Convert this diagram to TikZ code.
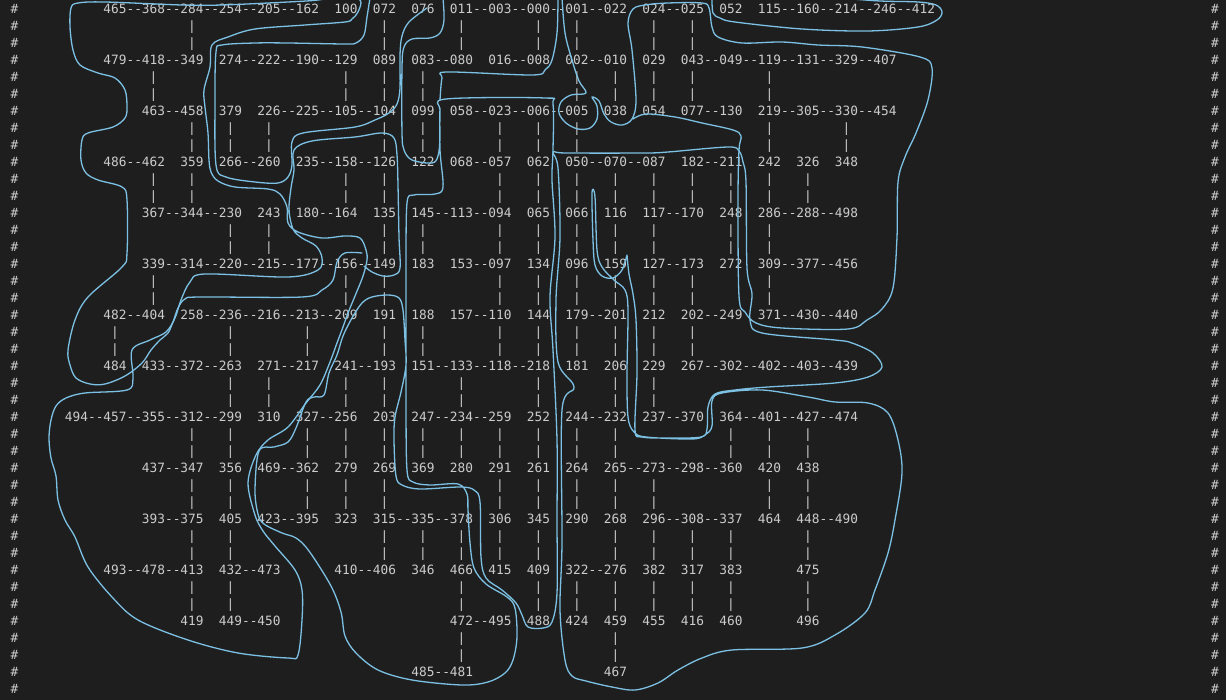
\documentclass[tikz,border=0pt]{standalone}
\usepackage{fontspec}
\setmonofont{DejaVu Sans Mono}
\definecolor{bgdark}{HTML}{1E1E1E}
\definecolor{txtgray}{HTML}{CCCCCC}
\definecolor{penblue}{HTML}{7CC0E3}
\begin{document}
\begin{tikzpicture}[x=1pt,y=-1pt,
    num/.style={font=\ttfamily\fontsize{12.8pt}{15pt}\selectfont, text=txtgray,
              inner sep=0pt, outer sep=0pt, text height=0.76em, text depth=0.24em},
    pen/.style={draw=penblue, line width=1.3pt, line cap=round, line join=round}]
        \fill[bgdark] (0,0) rectangle (1226,700);
        \useasboundingbox (0,0) rectangle (1226,700);
        % margin marks
        \foreach \i[
            evaluate = \i as \yi using {11.3 + 17*\i}
            ] in {0,...,40}{
            \node[num] (hl\i) at (14.5,\yi) {\#};
            \node[num] (hr\i) at (1215,\yi) {\#};
        };
        % numbered cells, row/column
        \foreach \r/\row in {
            0/{1/465,2/368,3/284,4/254,5/205,6/162,7/100,8/072,9/076,10/011,11/003,12/000,13/001,14/022,15/024,16/025,17/052,18/115,19/160,20/214,21/246,22/412},
            1/{1/479,2/418,3/349,4/274,5/222,6/190,7/129,8/089,9/083,10/080,11/016,12/008,13/002,14/010,15/029,16/043,17/049,18/119,19/131,20/329,21/407},
            2/{2/463,3/458,4/379,5/226,6/225,7/105,8/104,9/099,10/058,11/023,12/006,13/005,14/038,15/054,16/077,17/130,18/219,19/305,20/330,21/454},
            3/{1/486,2/462,3/359,4/266,5/260,6/235,7/158,8/126,9/122,10/068,11/057,12/062,13/050,14/070,15/087,16/182,17/211,18/242,19/326,20/348},
            4/{2/367,3/344,4/230,5/243,6/180,7/164,8/135,9/145,10/113,11/094,12/065,13/066,14/116,15/117,16/170,17/248,18/286,19/288,20/498},
            5/{2/339,3/314,4/220,5/215,6/177,7/156,8/149,9/183,10/153,11/097,12/134,13/096,14/159,15/127,16/173,17/272,18/309,19/377,20/456},
            6/{1/482,2/404,3/258,4/236,5/216,6/213,7/209,8/191,9/188,10/157,11/110,12/144,13/179,14/201,15/212,16/202,17/249,18/371,19/430,20/440},
            7/{1/484,2/433,3/372,4/263,5/271,6/217,7/241,8/193,9/151,10/133,11/118,12/218,13/181,14/206,15/229,16/267,17/302,18/402,19/403,20/439},
            8/{0/494,1/457,2/355,3/312,4/299,5/310,6/327,7/256,8/203,9/247,10/234,11/259,12/252,13/244,14/232,15/237,16/370,17/364,18/401,19/427,20/474},
            9/{2/437,3/347,4/356,5/469,6/362,7/279,8/269,9/369,10/280,11/291,12/261,13/264,14/265,15/273,16/298,17/360,18/420,19/438},
            10/{2/393,3/375,4/405,5/423,6/395,7/323,8/315,9/335,10/378,11/306,12/345,13/290,14/268,15/296,16/308,17/337,18/464,19/448,20/490},
            11/{1/493,2/478,3/413,4/432,5/473,7/410,8/406,9/346,10/466,11/415,12/409,13/322,14/276,15/382,16/317,17/383,19/475},
            12/{3/419,4/449,5/450,10/472,11/495,12/488,13/424,14/459,15/455,16/416,17/460,19/496},
            13/{9/485,10/481,14/467}}{
            \foreach \k/\v [
                evaluate = \k as \xk using {76.5 + 38.5*\k},
                evaluate = \r as \yr using {11.3 + 51*\r}
                ] in \row{
                \node[num] (n\v) at (\xk,\yr) {\v};
            };
        };
        % horizontal links
        \foreach \a/\b in {465/368,368/284,284/254,254/205,205/162,011/003,003/000,000/001,001/022,024/025,115/160,160/214,214/246,246/412,
            479/418,418/349,274/222,222/190,190/129,083/080,016/008,002/010,043/049,049/119,119/131,131/329,329/407,
            463/458,226/225,225/105,105/104,058/023,023/006,006/005,077/130,219/305,305/330,330/454,
            486/462,266/260,235/158,158/126,068/057,050/070,070/087,182/211,
            367/344,344/230,180/164,145/113,113/094,117/170,286/288,288/498,
            339/314,314/220,220/215,215/177,177/156,156/149,153/097,127/173,309/377,377/456,
            482/404,258/236,236/216,216/213,213/209,157/110,179/201,202/249,371/430,430/440,
            433/372,372/263,271/217,241/193,151/133,133/118,118/218,267/302,302/402,402/403,403/439,
            494/457,457/355,355/312,312/299,327/256,247/234,234/259,244/232,237/370,364/401,401/427,427/474,
            437/347,469/362,265/273,273/298,298/360,
            393/375,423/395,315/335,335/378,296/308,308/337,448/490,
            493/478,478/413,432/473,410/406,322/276,
            449/450,472/495,
            485/481}{
            \path (n\a.center) -- node[num] {-{}-} (n\b.center);
        };
        % vertical links
        \foreach \a/\b in {284/349,072/089,011/080,000/008,001/002,024/029,025/043,
            418/463,129/105,089/104,083/099,002/005,010/038,029/054,043/077,119/219,
            458/359,379/266,226/260,104/126,099/122,023/057,006/062,005/050,219/242,330/348,
            462/367,359/344,158/164,126/135,057/094,062/065,050/066,070/116,087/117,182/170,211/248,242/286,326/288,
            230/220,243/215,135/149,145/183,094/097,065/134,066/096,116/159,117/127,248/272,286/309,
            339/404,156/209,149/191,097/110,134/144,096/179,159/201,127/212,173/202,309/371,
            482/484,236/263,213/217,191/193,188/151,110/118,144/218,179/181,201/206,212/229,202/267,
            263/299,271/310,241/256,193/203,133/234,218/252,206/232,229/237,
            312/347,299/356,327/362,256/279,203/269,247/369,234/280,259/291,252/261,244/264,232/265,364/360,401/420,427/438,
            347/375,356/405,362/395,279/323,269/315,291/306,261/345,264/290,265/268,273/296,420/464,438/448,
            375/413,405/432,315/406,335/346,378/466,306/415,345/409,268/276,296/382,308/317,337/383,448/475,
            413/419,432/449,466/472,409/488,322/424,276/459,382/455,317/416,383/460,475/496,
            472/481,459/467}{
            \path (n\a.center) -- node[num,pos=1/3] {|} node[num,pos=2/3] {|} (n\b.center);
        };
        % hand-drawn route
        \draw[pen] plot[smooth, tension=0.55] coordinates {(340,-4) (318,0) (288,2) (222,5) (182,5) (105,2) (78,3) (71,8) (70,27) (73,50) (80,65) (98,73) (115,78) (125,90) (127,107) (125,118) (113,127) (88,133) (82,140) (81,160) (86,173) (98,180) (122,187) (127,200) (127,253) (122,267) (88,297) (75,320) (68,350) (70,365) (76,378) (90,384) (105,384) (125,376) (142,363) (151,350) (160,340) (168,333) (173,322) (178,308) (185,299) (200,297) (302,297) (322,290) (333,280) (337,262) (345,253) (362,253)};
        \draw[pen] plot[smooth, tension=0.55] coordinates {(340,-4) (360,0) (358,12) (352,19) (345,22) (305,25) (255,29) (228,37) (212,45) (210,67) (204,90) (205,107) (208,133) (209,160) (211,172) (218,181) (235,187) (268,189) (280,194) (287,207) (288,223) (298,232) (322,238) (345,236) (360,238) (366,250) (367,260) (363,276) (355,296) (348,313) (343,327) (337,343) (330,362) (320,385) (306,403) (288,427) (268,440) (256,455) (248,483) (255,515) (263,531) (275,546) (295,570) (302,590) (302,620) (298,655) (288,658) (238,653) (188,640) (138,620) (112,597) (88,567) (75,537) (65,520) (58,500) (56,476) (51,458) (49,438) (51,420) (56,406) (66,398) (85,393) (127,390) (133,378) (132,350) (150,340) (166,332) (175,318) (181,300) (190,282) (205,274) (288,277) (318,270) (322,258) (316,246) (302,238) (293,229) (289,210) (291,188) (294,170) (294,150) (312,141) (355,137) (382,133) (394,138) (397,155) (398,185) (399,237) (400,268) (394,275) (383,276) (372,272) (364,266)};
        \draw[pen] plot[smooth, tension=0.55] coordinates {(370,-2) (367,17) (364,35) (356,43) (345,44) (288,43) (255,43) (222,45) (216,52) (215,100) (216,165) (226,177) (255,182) (278,183) (288,177) (292,165) (292,142) (303,133) (355,127) (375,120) (389,113) (397,104) (400,88) (400,55) (402,36) (409,22) (427,8)};
        \draw[pen] plot[smooth, tension=0.55] coordinates {(443,-2) (444,20) (440,33) (430,38) (412,39) (404,47) (402,67) (402,133) (404,150) (412,160) (432,163) (438,156) (440,138) (440,110) (446,99) (545,98) (553,104) (553,150) (552,180) (555,237) (550,297) (553,350) (557,440) (557,520) (557,593) (552,622) (543,628) (528,627) (522,615) (516,603) (502,590) (486,578) (481,557) (480,502) (474,490) (460,487) (420,489) (402,485) (396,476) (394,440) (395,417) (401,392) (406,365) (405,340) (403,310) (399,298) (388,295) (372,297) (362,303) (352,318) (343,336) (337,355) (329,373) (324,395) (314,397) (306,402) (296,428) (288,442) (274,447) (259,451) (255,490) (258,514) (264,524) (282,533) (296,538) (309,551) (331,586) (341,612) (345,636) (356,653) (378,670) (412,680) (462,685) (488,682) (505,673) (513,660) (517,637) (515,608) (507,597) (486,584) (474,568) (470,543) (468,510) (467,494) (458,484) (430,485) (413,482) (407,470) (406,400) (406,300) (406,265) (407,203) (414,195) (435,194) (443,187) (440,150) (440,108)};
        \draw[pen] plot[smooth, tension=0.55] coordinates {(558,-2) (557,33) (552,60) (545,70) (532,75) (447,72) (442,78) (440,100)};
        \draw[pen] plot[smooth, tension=0.55] coordinates {(562,-2) (565,33) (572,60) (579,81) (586,93) (571,95) (561,102) (559,113) (566,123) (578,129) (590,128) (597,119) (597,106) (592,97) (599,101) (604,114) (611,122) (622,125) (632,119) (636,100) (632,50) (628,23) (633,9) (645,5) (668,3) (702,3) (709,8) (712,27) (718,37) (742,43) (782,42) (818,45) (862,47) (920,57) (932,68) (928,100) (916,133) (905,157) (898,182) (897,237) (893,288) (882,309) (867,320) (848,329) (782,328) (756,323) (745,312) (739,296) (738,200) (739,150) (741,136) (733,130) (702,123) (675,117) (646,114) (633,119)};
        \draw[pen] plot[smooth, tension=0.55] coordinates {(712,-2) (713,13) (720,18) (735,22) (802,29) (868,31) (918,27) (937,20) (942,12) (936,5) (918,2) (880,1) (840,-2)};
        \draw[pen] plot[smooth, tension=0.55] coordinates {(627,255) (622,270) (613,278) (602,276) (595,265) (593,240) (592,193) (595,197) (597,250) (602,267) (614,280) (625,290) (628,310) (627,373) (628,417) (634,432) (646,437) (692,439) (705,435) (712,426) (712,401) (722,393) (762,390) (808,397) (835,402) (868,403) (888,413) (898,440) (902,473) (895,520) (888,553) (875,590) (865,613) (835,635) (802,648) (732,650) (702,658) (678,670) (658,683) (635,690) (612,687) (586,681) (572,676) (565,660) (560,610) (562,543) (562,410) (574,387) (558,362) (556,300) (560,237) (558,168) (553,152) (565,153) (645,153) (668,152) (728,147) (739,151) (743,162) (746,182) (747,268) (752,294) (750,320) (762,333) (835,340) (852,343) (873,353) (882,367) (868,377) (835,383) (768,387) (735,390) (715,394) (708,407) (707,429) (701,437) (668,438) (642,437) (635,430) (637,373) (636,320) (633,294) (629,274) (627,255)};
\end{tikzpicture}
\end{document}
